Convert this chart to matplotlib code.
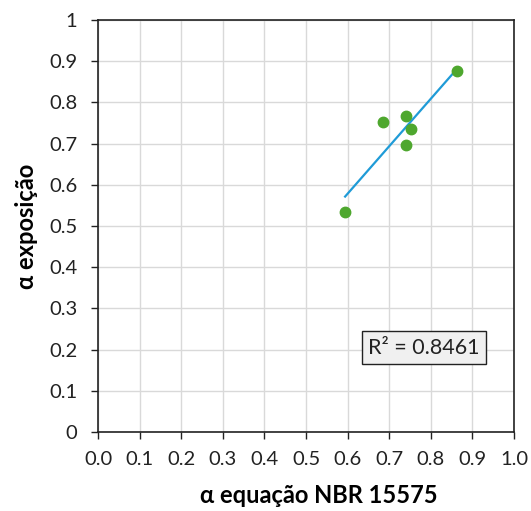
import matplotlib
matplotlib.use("Agg")
import matplotlib.pyplot as plt
import numpy as np

# values
alpha_nbr = [0.594, 0.684, 0.740, 0.752, 0.740, 0.864]
alpha_exposicao = [0.535, 0.752, 0.767, 0.736, 0.696, 0.876]
r2_label = "R² = 0.8461"
x_ticks = [0.0, 0.1, 0.2, 0.3, 0.4, 0.5, 0.6, 0.7, 0.8, 0.9, 1.0]
y_ticks = [0, 0.1, 0.2, 0.3, 0.4, 0.5, 0.6, 0.7, 0.8, 0.9, 1]
y_tick_labels = ["0", "0.1", "0.2", "0.3", "0.4", "0.5", "0.6", "0.7", "0.8", "0.9", "1"]

plt.rcParams["font.family"] = ["Lato", "DejaVu Sans"]

fig = plt.figure(figsize=(5.31, 5.11), dpi=100)
ax = fig.add_axes([0.1846, 0.1546, 0.7834, 0.8063])

x = np.array(alpha_nbr)
y = np.array(alpha_exposicao)
slope, intercept = np.polyfit(x, y, 1)
xs = np.array([x.min(), x.max()])
ax.plot(xs, slope * xs + intercept, color="#1f9bd7", lw=1.6, zorder=3)
ax.plot(x, y, "o", color="#4ea72e", markersize=7.5, zorder=4)

ax.set_xlim(0, 1)
ax.set_ylim(0, 1)
ax.set_xticks(x_ticks)
ax.set_xticklabels([f"{v:.1f}" for v in x_ticks])
ax.set_yticks(y_ticks)
ax.set_yticklabels(y_tick_labels)
ax.tick_params(labelsize=14.5, length=5, width=1, color="#222222", labelcolor="#222222")
ax.tick_params(axis="x", pad=9)
ax.tick_params(axis="y", pad=10)
ax.grid(True, color="#d9d9d9", lw=1)
ax.set_axisbelow(True)
for sp in ax.spines.values():
    sp.set_color("#222222")
    sp.set_linewidth(1.2)

ax.set_xlabel("α equação NBR 15575", fontsize=17, fontweight="bold", va="center")
ax.set_ylabel("α exposição", fontsize=17, fontweight="bold", va="center")
ax.xaxis.set_label_coords(0.53, -0.155)
ax.yaxis.set_label_coords(-0.173, 0.5)

ax.text(0.784, 0.205, r2_label, fontsize=15.5, ha="center", va="center", color="#222222",
        bbox=dict(boxstyle="square,pad=0.3", facecolor="#f0f0f0", edgecolor="#222222", lw=1))

fig.savefig("out.png", dpi=100)
